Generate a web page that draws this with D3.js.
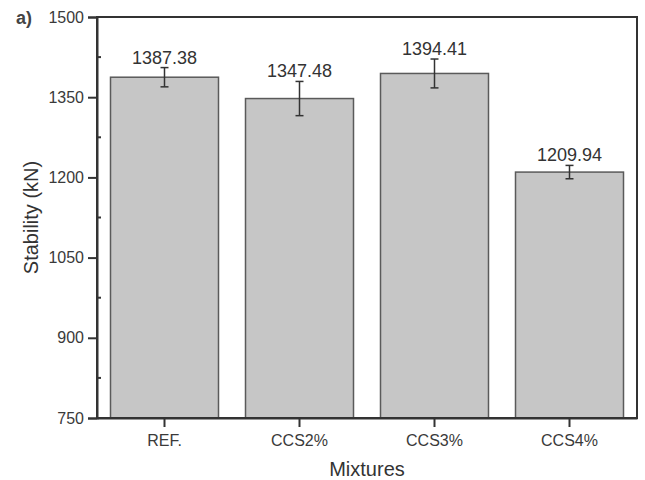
<!DOCTYPE html>
<html>
<head>
<meta charset="utf-8">
<script src="https://cdn.jsdelivr.net/npm/d3@7"></script>
<style>
  html, body { margin: 0; padding: 0; background: #fff; }
  svg { display: block; font-family: "Liberation Sans", Arial, sans-serif; }
</style>
</head>
<body>
<svg id="chart" width="645" height="480"></svg>
<script>
// Marshall stability per mixture, with standard deviation
const mixtures = ["REF.", "CCS2%", "CCS3%", "CCS4%"];
const stability = [1387.38, 1347.48, 1394.41, 1209.94];
const stdDev = [18, 32, 27, 12.5];
const yTicks = [750, 900, 1050, 1200, 1350, 1500];
const yMinorTicks = [825, 975, 1125, 1275, 1425];

const svg = d3.select("#chart");
const plotLeft = 97, plotRight = 637, plotTop = 17, plotBottom = 418;
const ink = "#333";

const x = d3.scaleBand()
  .domain(mixtures)
  .range([plotLeft, plotRight])
  .paddingInner(0.2)
  .paddingOuter(0.1);

const y = d3.scaleLinear()
  .domain([750, 1500])
  .range([plotBottom, plotTop]);

// bars
svg.append("g").selectAll("rect")
  .data(mixtures)
  .join("rect")
  .attr("x", d => x(d))
  .attr("y", (d, i) => y(stability[i]))
  .attr("width", x.bandwidth())
  .attr("height", (d, i) => y(750) - y(stability[i]))
  .attr("fill", "#c6c6c6")
  .attr("stroke", "#5a5a5a")
  .attr("stroke-width", 1.5);

// error bars
const err = svg.append("g").attr("stroke", ink).attr("stroke-width", 1.5);
mixtures.forEach((m, i) => {
  const cx = x(m) + x.bandwidth() / 2;
  const y1 = y(stability[i] + stdDev[i]);
  const y2 = y(stability[i] - stdDev[i]);
  err.append("line").attr("x1", cx).attr("x2", cx).attr("y1", y1).attr("y2", y2);
  err.append("line").attr("x1", cx - 4).attr("x2", cx + 4).attr("y1", y1).attr("y2", y1);
  err.append("line").attr("x1", cx - 4).attr("x2", cx + 4).attr("y1", y2).attr("y2", y2);
});

// value labels
svg.append("g").selectAll("text")
  .data(mixtures)
  .join("text")
  .attr("x", d => x(d) + x.bandwidth() / 2)
  .attr("y", (d, i) => y(stability[i] + stdDev[i]) - 4)
  .attr("text-anchor", "middle")
  .attr("font-size", 18)
  .attr("fill", ink)
  .text((d, i) => stability[i].toFixed(2));

// frame
svg.append("rect")
  .attr("x", plotLeft).attr("y", plotTop)
  .attr("width", plotRight - plotLeft).attr("height", plotBottom - plotTop)
  .attr("fill", "none").attr("stroke", ink).attr("stroke-width", 2);

// y axis
const yAxis = svg.append("g")
  .attr("transform", `translate(${plotLeft},0)`)
  .call(d3.axisLeft(y).tickValues(yTicks).tickSize(9).tickPadding(4).tickFormat(d3.format("d")));
yAxis.select(".domain").attr("stroke", ink).attr("stroke-width", 2);
yAxis.selectAll(".tick line").attr("stroke", ink).attr("stroke-width", 2);
yAxis.selectAll(".tick text").attr("font-size", 16).attr("fill", "#3a3a3a")
  .attr("font-family", "Liberation Sans, Arial, sans-serif");

// minor ticks, pointing inward
svg.append("g").selectAll("line")
  .data(yMinorTicks)
  .join("line")
  .attr("x1", plotLeft).attr("x2", plotLeft + 4)
  .attr("y1", d => y(d)).attr("y2", d => y(d))
  .attr("stroke", ink).attr("stroke-width", 2);

// x axis
const xAxis = svg.append("g")
  .attr("transform", `translate(0,${plotBottom})`)
  .call(d3.axisBottom(x).tickSize(9).tickPadding(8).tickSizeOuter(0));
xAxis.select(".domain").attr("stroke", ink).attr("stroke-width", 2);
xAxis.selectAll(".tick line").attr("stroke", ink).attr("stroke-width", 2);
xAxis.selectAll(".tick text").attr("font-size", 16).attr("fill", "#3a3a3a")
  .attr("font-family", "Liberation Sans, Arial, sans-serif");

// axis titles
svg.append("text")
  .attr("x", (plotLeft + plotRight) / 2).attr("y", 476)
  .attr("text-anchor", "middle")
  .attr("font-size", 20).attr("fill", ink)
  .text("Mixtures");

svg.append("text")
  .attr("transform", `translate(38,${(plotTop + plotBottom) / 2}) rotate(-90)`)
  .attr("text-anchor", "middle")
  .attr("font-size", 20).attr("fill", ink)
  .text("Stability (kN)");

// panel letter
svg.append("text")
  .attr("x", 16).attr("y", 24)
  .attr("font-size", 18).attr("font-weight", "bold").attr("fill", "#444")
  .text("a)");
</script>
</body>
</html>
